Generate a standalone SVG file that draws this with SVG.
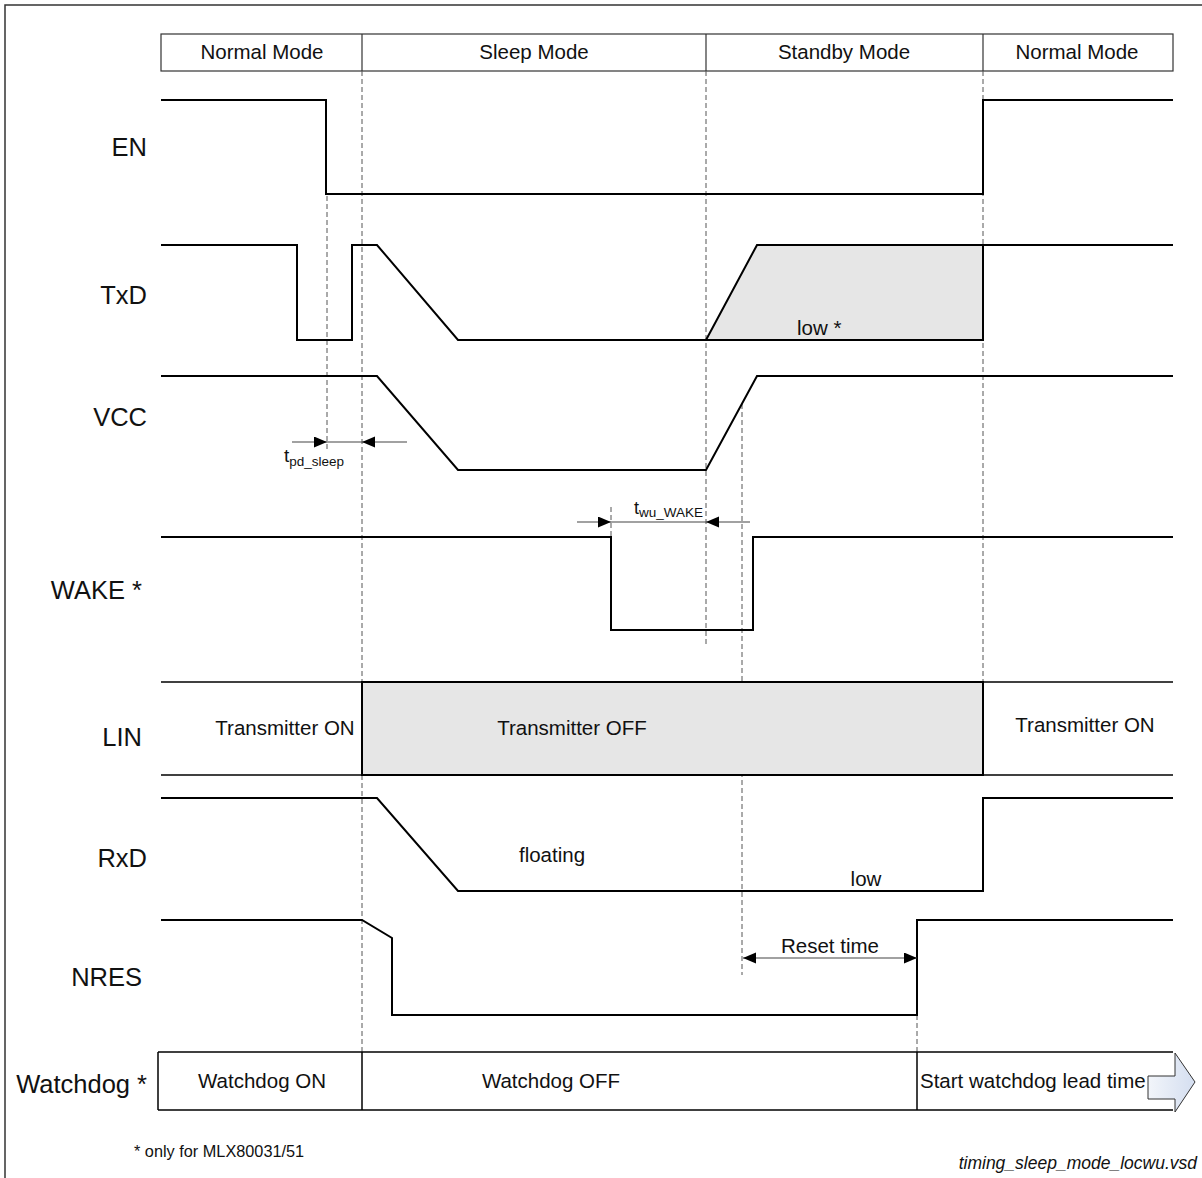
<svg xmlns="http://www.w3.org/2000/svg" width="1202" height="1178" viewBox="0 0 1202 1178">
<defs>
<style>
text{font-family:"Liberation Sans",Arial,sans-serif;fill:#111}
.lbl{font-size:25.5px;text-anchor:end}
.t19{font-size:20.5px}
.mid{text-anchor:middle}
.sig{fill:none;stroke:#000;stroke-width:2;stroke-linejoin:miter}
.dash{fill:none;stroke:#555;stroke-width:1;stroke-dasharray:5 3}
.box{fill:none;stroke:#333;stroke-width:1.2}
.wd{stroke:#000;stroke-width:1.5}
.gray{fill:#e6e6e6;stroke:#000;stroke-width:2}
.dim{fill:none;stroke:#444;stroke-width:1.2}
</style>
<marker id="ah" markerWidth="14" markerHeight="12" refX="13" refY="5.5" orient="auto" markerUnits="userSpaceOnUse">
<path d="M0,0 L13,5.5 L0,11 Z" fill="#000"/>
</marker>
<linearGradient id="bg" x1="0" y1="0" x2="1" y2="0">
<stop offset="0" stop-color="#f2f5fa"/>
<stop offset="1" stop-color="#d4def0"/>
</linearGradient>
</defs>
<rect x="5" y="5" width="1210" height="1190" fill="none" stroke="#333" stroke-width="1.5"/>

<g id="header">
<rect class="box" x="161" y="34" width="1012" height="37"/>
<line class="box" x1="362" y1="34" x2="362" y2="71"/>
<line class="box" x1="706" y1="34" x2="706" y2="71"/>
<line class="box" x1="983" y1="34" x2="983" y2="71"/>
<text class="t19 mid" x="262" y="59">Normal Mode</text>
<text class="t19 mid" x="534" y="59">Sleep Mode</text>
<text class="t19 mid" x="844" y="59">Standby Mode</text>
<text class="t19 mid" x="1077" y="59">Normal Mode</text>
</g>

<g id="guides">
<line class="dash" x1="327" y1="196" x2="327" y2="450"/>
<line class="dash" x1="362" y1="71" x2="362" y2="1052"/>
<line class="dash" x1="706" y1="71" x2="706" y2="645"/>
<line class="dash" x1="742" y1="404" x2="742" y2="975"/>
<line class="dash" x1="983" y1="71" x2="983" y2="682"/>
<line class="dash" x1="611" y1="507" x2="611" y2="537"/>
<line class="dash" x1="917" y1="1015" x2="917" y2="1052"/>
</g>

<g id="labels">
<text class="lbl" x="147" y="156">EN</text>
<text class="lbl" x="147" y="304">TxD</text>
<text class="lbl" x="147" y="426">VCC</text>
<text class="lbl" x="142" y="599">WAKE *</text>
<text class="lbl" x="142" y="746">LIN</text>
<text class="lbl" x="147" y="867">RxD</text>
<text class="lbl" x="142" y="986">NRES</text>
<text class="lbl" x="147" y="1093">Watchdog *</text>
</g>

<g id="EN">
<polyline class="sig" points="161,100 326,100 326,194 983,194 983,100 1173,100"/>
</g>

<g id="TxD">
<polygon class="gray" points="706,340 757,245 983,245 983,340" stroke-width="1.5"/>
<polyline class="sig" points="161,245 297,245 297,340 352,340 352,245 377,245 458,340 983,340 983,245 1173,245"/>
<text class="t19" x="797" y="335">low *</text>
</g>

<g id="VCC">
<polyline class="sig" points="161,376 377,376 458,470 706,470 757,376 1173,376"/>
</g>

<g id="WAKE">
<polyline class="sig" points="161,537 611,537 611,630 753,630 753,537 1173,537"/>
</g>

<g id="LIN">
<rect x="362" y="682" width="621" height="93" fill="#e6e6e6" stroke="#000" stroke-width="2"/>
<line x1="161" y1="682" x2="1173" y2="682" stroke="#000" stroke-width="1.5"/>
<line x1="161" y1="775" x2="1173" y2="775" stroke="#000" stroke-width="1.5"/>
<text class="t19 mid" x="285" y="735">Transmitter ON</text>
<text class="t19 mid" x="572" y="735">Transmitter OFF</text>
<text class="t19 mid" x="1085" y="732">Transmitter ON</text>
</g>

<g id="RxD">
<polyline class="sig" points="161,798 377,798 458,891 983,891 983,798 1173,798"/>
<text class="t19 mid" x="552" y="862">floating</text>
<text class="t19 mid" x="866" y="886">low</text>
</g>

<g id="NRES">
<polyline class="sig" points="161,920 362,920 392,938 392,1015 917,1015 917,920 1173,920"/>
</g>

<g id="Watchdog">
<line class="wd" x1="158" y1="1052" x2="1173" y2="1052"/>
<line class="wd" x1="158" y1="1110" x2="1173" y2="1110"/>
<line class="wd" x1="158" y1="1052" x2="158" y2="1110"/>
<line class="wd" x1="362" y1="1052" x2="362" y2="1110"/>
<line class="wd" x1="917" y1="1052" x2="917" y2="1110"/>
<text class="t19 mid" x="262" y="1088">Watchdog ON</text>
<text class="t19 mid" x="551" y="1088">Watchdog OFF</text>
<text class="t19" x="920" y="1088">Start watchdog lead time</text>
<polygon points="1148,1076 1175,1076 1175,1053 1195,1082 1175,1112 1175,1099 1148,1099" fill="url(#bg)" stroke="#333" stroke-width="1"/>
</g>

<g id="connectors">
<line class="dim" x1="292" y1="442" x2="327" y2="442" marker-end="url(#ah)"/>
<line class="dim" x1="327" y1="442" x2="362" y2="442"/>
<line class="dim" x1="407" y1="442" x2="362" y2="442" marker-end="url(#ah)"/>
<line class="dim" x1="577" y1="522" x2="611" y2="522" marker-end="url(#ah)"/>
<line class="dim" x1="611" y1="522" x2="706" y2="522"/>
<line class="dim" x1="750" y1="522" x2="706" y2="522" marker-end="url(#ah)"/>
<line class="dim" x1="830" y1="958" x2="743" y2="958" marker-end="url(#ah)"/>
<line class="dim" x1="830" y1="958" x2="917" y2="958" marker-end="url(#ah)"/>
</g>

<g id="dimlabels">
<text x="284" y="462" font-size="19">t<tspan font-size="13.5" dy="4">pd_sleep</tspan></text>
<text x="634" y="514" font-size="18">t<tspan font-size="13.5" dy="3">wu_WAKE</tspan></text>
<text class="t19 mid" x="830" y="953">Reset time</text>
</g>

<g id="notes">
<text x="134" y="1157" font-size="16.3">* only for MLX80031/51</text>
<text x="1197" y="1169" font-size="17.5" font-style="italic" text-anchor="end">timing_sleep_mode_locwu.vsd</text>
</g>
</svg>
